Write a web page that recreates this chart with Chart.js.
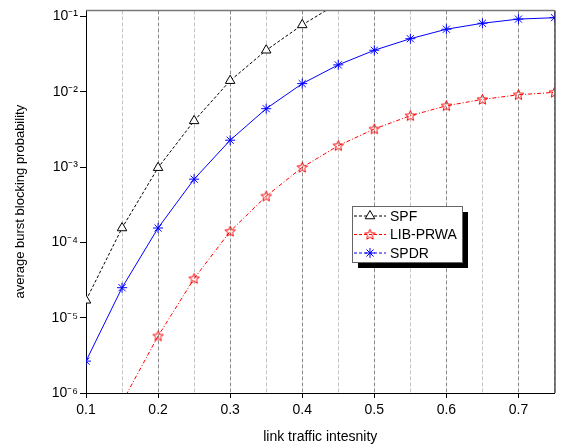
<!DOCTYPE html>
<html>
<head>
<meta charset="utf-8">
<script src="https://cdn.jsdelivr.net/npm/chart.js@4.4.1/dist/chart.umd.min.js"></script>
<style>
  html, body { margin: 0; padding: 0; background: #fff; }
  #wrap { width: 561px; height: 448px; }
</style>
</head>
<body>
<div id="wrap"><canvas id="chart"></canvas></div>
<script>
// traffic load values on the x axis
const loads = [0.1, 0.15, 0.2, 0.25, 0.3, 0.35, 0.4, 0.45, 0.5, 0.55, 0.6, 0.65, 0.7, 0.75];

// blocking probability per scheme
const spf = [1.7e-5, 1.55e-4, 9.8e-4, 4.1e-3, 1.4e-2, 3.55e-2, 7.7e-2, 1.5e-1];
const libPrwa = [8e-8, 7.5e-7, 5.7e-6, 3.3e-5, 1.4e-4, 4.1e-4, 9.9e-4, 1.92e-3, 3.2e-3, 4.8e-3, 6.5e-3, 7.9e-3, 9.1e-3, 9.8e-3];
const spdr = [2.65e-6, 2.5e-5, 1.55e-4, 6.9e-4, 2.27e-3, 5.95e-3, 1.28e-2, 2.27e-2, 3.55e-2, 5.05e-2, 6.75e-2, 8.1e-2, 9.2e-2, 9.6e-2];

const decades = [1e-6, 1e-5, 1e-4, 1e-3, 1e-2, 1e-1];
const decadeLabels = ['10\u207B\u2076', '10\u207B\u2075', '10\u207B\u2074', '10\u207B\u00B3', '10\u207B\u00B2', '10\u207B\u00B9'];

const FONT = "'Liberation Sans', Arial, sans-serif";

function toPoints(values) {
    return values.map((v, i) => ({ x: loads[i], y: v }));
}

function isTenth(v) {
    return Math.round(v * 100) % 10 === 0;
}

// open five-pointed star used for LIB-PRWA markers
function makeStar(color) {
    const c = document.createElement('canvas');
    c.width = 13;
    c.height = 13;
    const g = c.getContext('2d');
    g.strokeStyle = color;
    g.lineWidth = 1;
    g.beginPath();
    for (let i = 0; i < 10; i++) {
        const r = i % 2 === 0 ? 5.5 : 2.4;
        const a = -Math.PI / 2 + i * Math.PI / 5;
        const px = 6.5 + r * Math.cos(a);
        const py = 6.8 + r * Math.sin(a);
        if (i === 0) g.moveTo(px, py); else g.lineTo(px, py);
    }
    g.closePath();
    g.stroke();
    return c;
}

const redStar = makeStar('#ff0000');

// box round the plot plus the legend with its drop shadow
const framePlugin = {
    id: 'frame',
    afterDatasetsDraw(chart) {
        const { ctx, chartArea: a } = chart;
        ctx.save();
        ctx.strokeStyle = '#777';
        ctx.lineWidth = 1.5;
        ctx.beginPath();
        ctx.moveTo(a.left, a.top);
        ctx.lineTo(a.right, a.top);
        ctx.stroke();
        ctx.strokeStyle = '#000';
        ctx.lineWidth = 1;
        ctx.beginPath();
        ctx.moveTo(a.right + 0.5, a.top);
        ctx.lineTo(a.right + 0.5, a.bottom);
        ctx.stroke();
        ctx.restore();
    },
    afterDraw(chart) {
        const ctx = chart.ctx;
        const x = 352, y = 206, w = 110, h = 56;
        ctx.save();
        ctx.fillStyle = '#000';
        ctx.fillRect(x + 6, y + 6, w, h);
        ctx.fillStyle = '#fff';
        ctx.fillRect(x, y, w, h);
        ctx.strokeStyle = '#666';
        ctx.lineWidth = 1;
        ctx.strokeRect(x + 0.5, y + 0.5, w, h);
        ctx.font = '14px ' + FONT;
        ctx.textBaseline = 'middle';
        chart.data.datasets.forEach((ds, i) => {
            const ry = y + 10 + i * 18.5;
            ctx.strokeStyle = ds.borderColor;
            ctx.lineWidth = 1;
            ctx.setLineDash([3, 2]);
            ctx.beginPath();
            ctx.moveTo(x + 2, ry);
            ctx.lineTo(x + 34, ry);
            ctx.stroke();
            ctx.setLineDash([]);
            ctx.fillStyle = '#fff';
            ctx.strokeStyle = ds.pointBorderColor;
            Chart.helpers.drawPoint(ctx, {
                pointStyle: ds.pointStyle,
                radius: ds.pointRadius,
                borderWidth: ds.pointBorderWidth,
                rotation: 0
            }, x + 18, ry);
            ctx.fillStyle = '#000';
            ctx.fillText(ds.label, x + 38, ry + 1);
        });
        ctx.restore();
    }
};

new Chart(document.getElementById('chart'), {
    type: 'line',
    data: {
        datasets: [{
            label: 'SPF',
            data: toPoints(spf),
            borderColor: '#000',
            borderWidth: 1,
            borderDash: [3, 2],
            pointStyle: 'triangle',
            pointRadius: 5.5,
            pointBorderWidth: 1,
            pointBorderColor: '#000',
            pointBackgroundColor: '#fff'
        }, {
            label: 'LIB-PRWA',
            data: toPoints(libPrwa),
            borderColor: '#ff0000',
            borderWidth: 1,
            borderDash: [4, 2, 1, 2],
            pointStyle: redStar,
            pointRadius: 5,
            pointBorderWidth: 1,
            pointBorderColor: '#ff0000',
            pointBackgroundColor: '#ff0000'
        }, {
            label: 'SPDR',
            data: toPoints(spdr),
            borderColor: '#0000ff',
            borderWidth: 1,
            pointStyle: 'star',
            pointRadius: 5,
            pointBorderWidth: 1,
            pointBorderColor: '#0000ff',
            pointBackgroundColor: '#0000ff'
        }]
    },
    options: {
        responsive: true,
        maintainAspectRatio: false,
        animation: false,
        layout: { padding: { top: 9, right: 4, left: 0, bottom: 0 } },
        plugins: {
            legend: { display: false },
            tooltip: { enabled: false }
        },
        scales: {
            x: {
                type: 'linear',
                min: 0.1,
                max: 0.75,
                afterFit: s => { s.height = 55; },
                ticks: {
                    stepSize: 0.05,
                    autoSkip: false,
                    maxRotation: 0,
                    color: '#000',
                    padding: 4,
                    font: { family: FONT, size: 14 },
                    callback: v => (isTenth(v) ? (Math.round(v * 10) / 10).toFixed(1) : '')
                },
                grid: {
                    color: ctx => (isTenth(ctx.tick.value) ? '#8a8a8a' : '#c4c4c4'),
                    lineWidth: 1,
                    tickLength: 5,
                    tickColor: ctx => (isTenth(ctx.tick.value) ? '#000' : 'rgba(0,0,0,0)')
                },
                border: { color: '#000', width: 1, dash: [4, 2] },
                title: {
                    display: true,
                    text: 'link traffic intesnity',
                    color: '#000',
                    font: { family: FONT, size: 14 },
                    padding: { top: 4, bottom: 2 }
                }
            },
            y: {
                type: 'logarithmic',
                min: 1e-6,
                max: 0.12,
                afterFit: s => { s.width = 86; },
                afterBuildTicks: s => { s.ticks = decades.map(v => ({ value: v })); },
                ticks: {
                    color: '#000',
                    padding: 2,
                    font: { family: FONT, size: 14 },
                    callback: v => {
                        const i = decades.findIndex(d => Math.abs(d - v) / d < 1e-6);
                        return i >= 0 ? decadeLabels[i] : '';
                    }
                },
                grid: {
                    drawOnChartArea: false,
                    tickLength: 6,
                    tickColor: '#000'
                },
                border: { color: '#000', width: 1 },
                title: {
                    display: true,
                    text: 'average burst blocking probability',
                    color: '#000',
                    font: { family: FONT, size: 13 },
                    padding: { top: 13, bottom: 4 }
                }
            }
        }
    },
    plugins: [framePlugin]
});
</script>
</body>
</html>
